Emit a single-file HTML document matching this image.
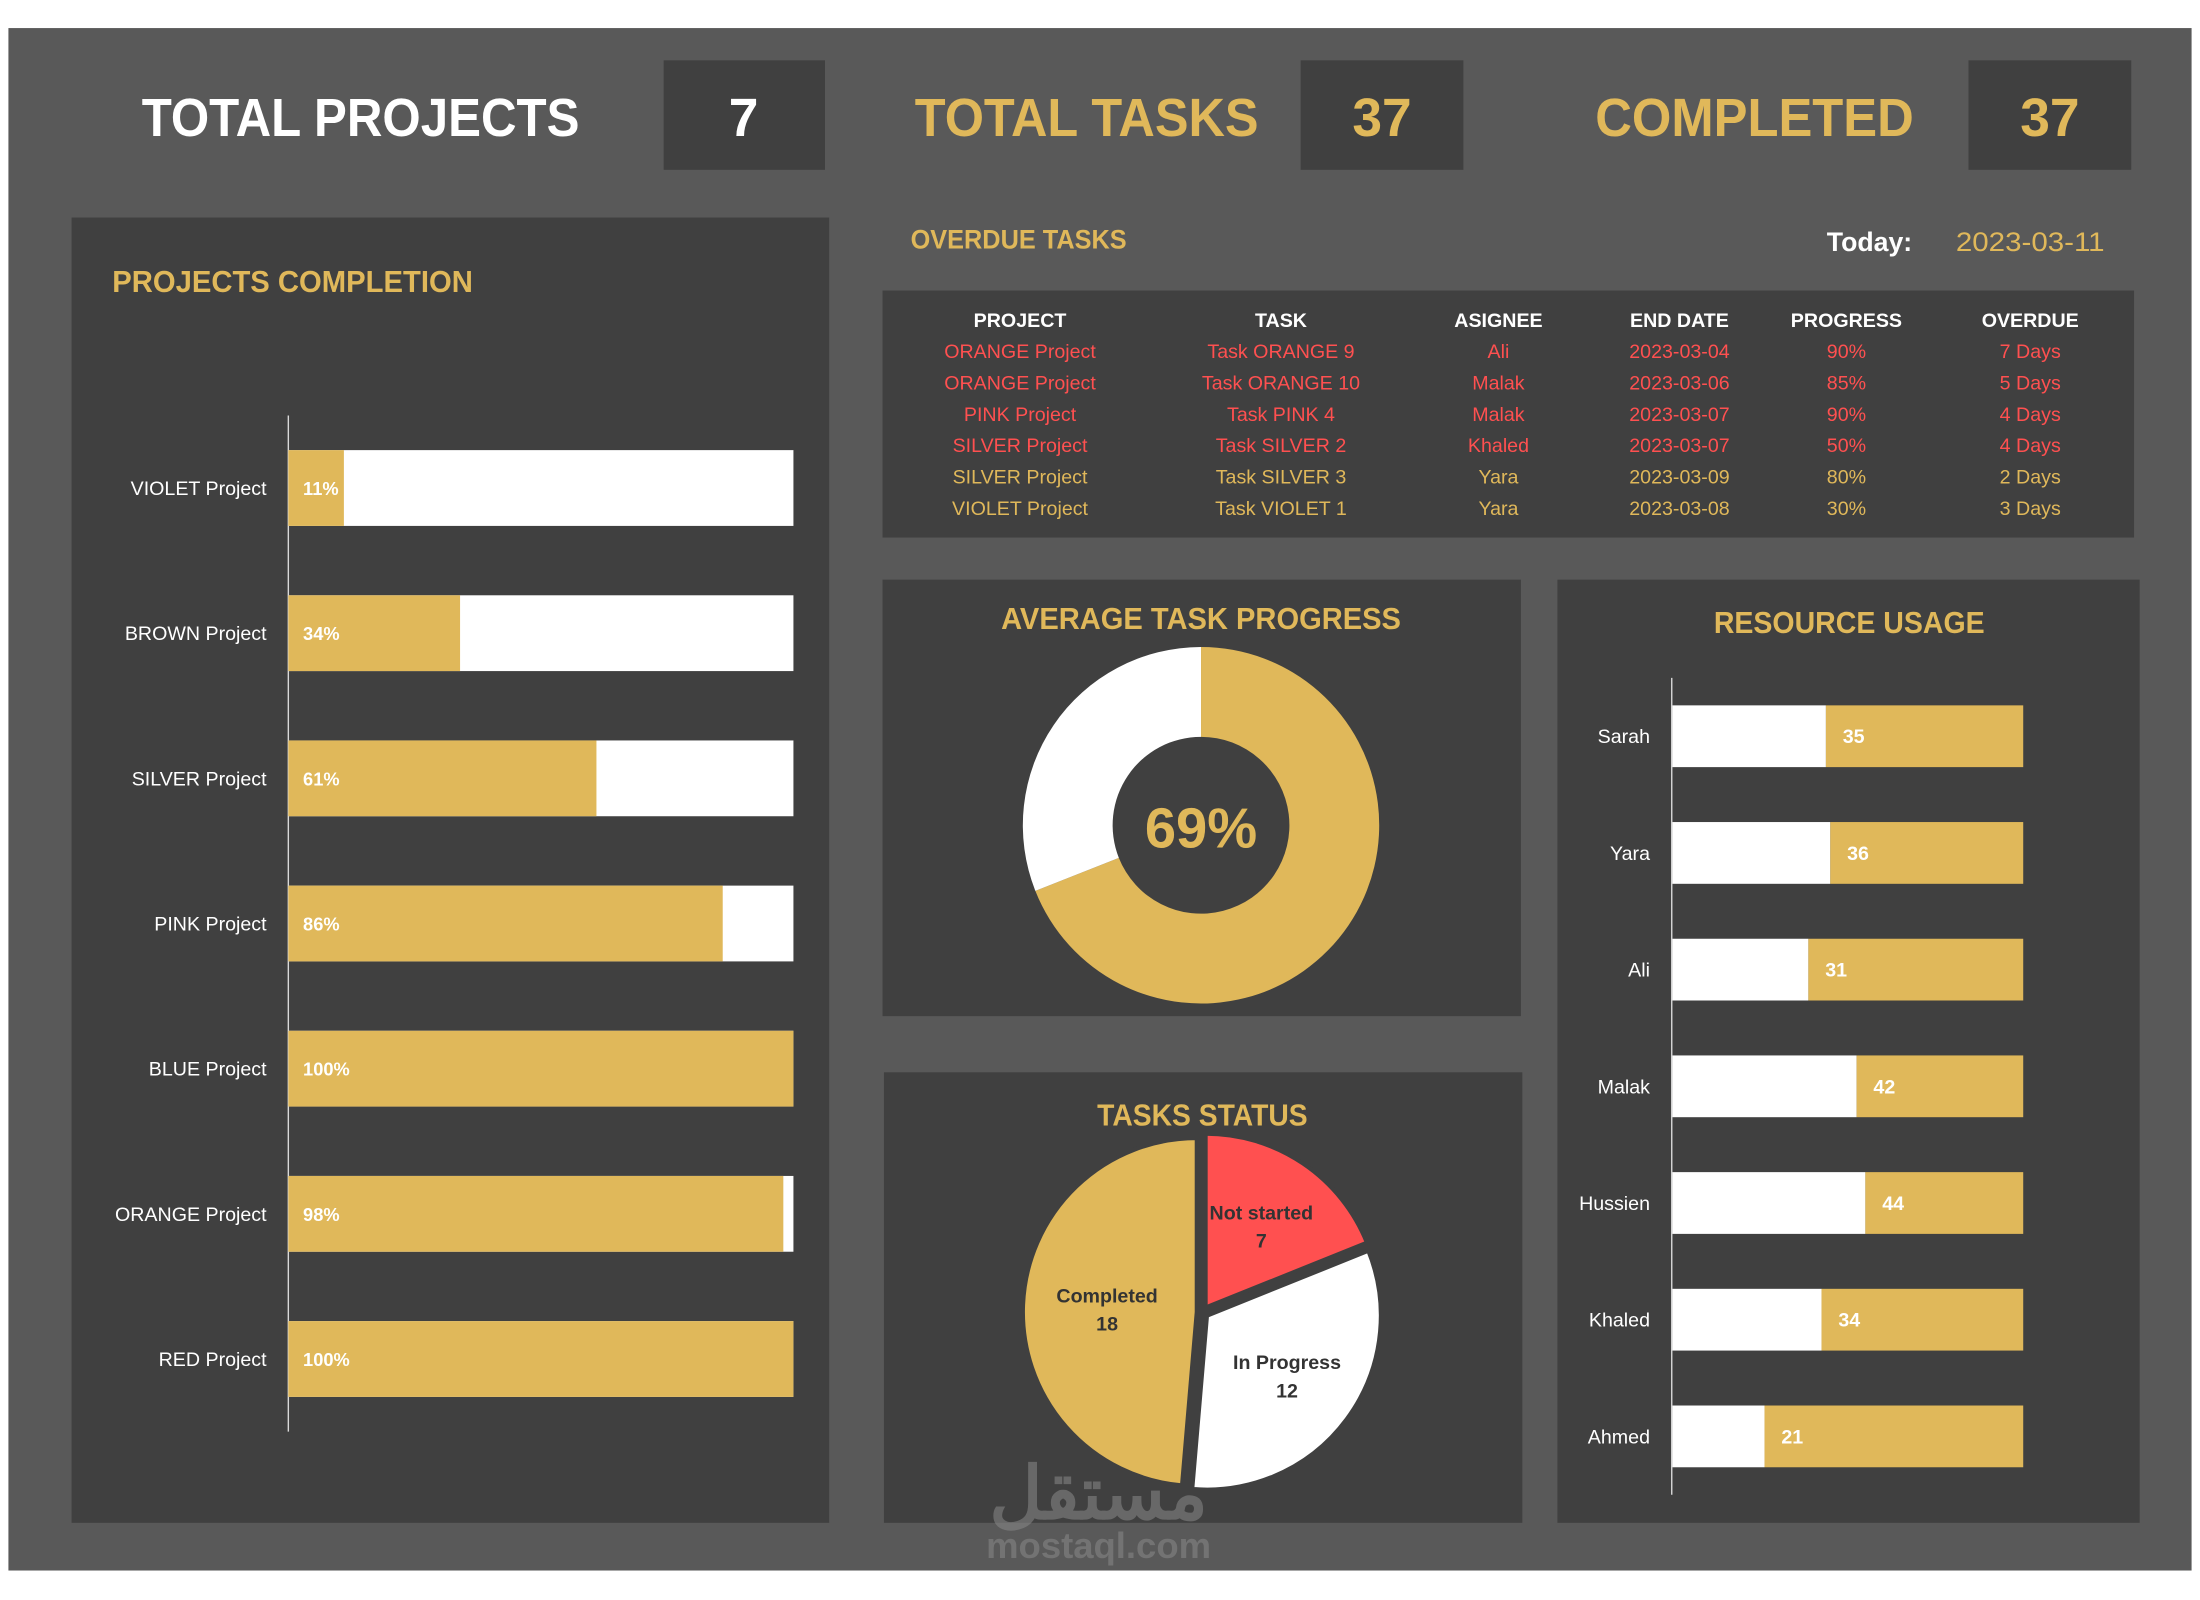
<!DOCTYPE html>
<html><head><meta charset="utf-8"><style>
html,body{margin:0;padding:0;background:#fff;width:2200px;height:1600px;overflow:hidden}
svg{display:block}
text{font-family:"Liberation Sans","Noto Sans CJK SC",sans-serif}
</style></head><body>
<svg width="2200" height="1600" viewBox="0 0 1568 1140" preserveAspectRatio="none" xmlns="http://www.w3.org/2000/svg">
<rect x="6" y="20" width="1556" height="1099" fill="#595959"/>
<g>
<text x="101" y="97" font-size="38" font-weight="bold" fill="#fff" textLength="312" lengthAdjust="spacingAndGlyphs">TOTAL PROJECTS</text>
<rect x="473" y="43" width="115" height="78" fill="#404040"/>
<text x="530" y="97" font-size="38" font-weight="bold" fill="#fff" text-anchor="middle">7</text></g>
<g>
<text x="652" y="97" font-size="38" font-weight="bold" fill="#e0b85a" textLength="245" lengthAdjust="spacingAndGlyphs">TOTAL TASKS</text>
<rect x="927" y="43" width="116" height="78" fill="#404040"/>
<text x="985" y="97" font-size="38" font-weight="bold" fill="#e0b85a" text-anchor="middle">37</text></g>
<g>
<text x="1137" y="97" font-size="38" font-weight="bold" fill="#e0b85a" textLength="227" lengthAdjust="spacingAndGlyphs">COMPLETED</text>
<rect x="1403" y="43" width="116" height="78" fill="#404040"/>
<text x="1461" y="97" font-size="38" font-weight="bold" fill="#e0b85a" text-anchor="middle">37</text></g>

<rect x="51" y="155" width="540" height="930" fill="#404040"/>
<text x="80" y="208" font-size="22" font-weight="bold" fill="#e0b85a" textLength="257" lengthAdjust="spacingAndGlyphs">PROJECTS COMPLETION</text>
<line x1="205.5" y1="296" x2="205.5" y2="1020" stroke="#d9d9d9" stroke-width="1"/>
<g id="projBars"></g>

<text x="649" y="177" font-size="19" font-weight="bold" fill="#e0b85a" textLength="154" lengthAdjust="spacingAndGlyphs">OVERDUE TASKS</text>
<text x="1302" y="179" font-size="19" font-weight="bold" fill="#fff">Today:</text>
<text x="1394" y="179" font-size="19" fill="#e0b85a" textLength="106" lengthAdjust="spacingAndGlyphs">2023-03-11</text>
<rect x="629" y="207" width="892" height="176" fill="#404040"/>
<g id="table"></g>

<rect x="629" y="413" width="455" height="311" fill="#404040"/>
<text x="856" y="448" font-size="22" font-weight="bold" fill="#e0b85a" text-anchor="middle" textLength="285" lengthAdjust="spacingAndGlyphs">AVERAGE TASK PROGRESS</text>
<g id="donut"></g>
<text x="856" y="604" font-size="40" font-weight="bold" fill="#e0b85a" text-anchor="middle">69%</text>

<rect x="630" y="764" width="455" height="321" fill="#404040"/>
<text x="857" y="802" font-size="22" font-weight="bold" fill="#e0b85a" text-anchor="middle" textLength="150" lengthAdjust="spacingAndGlyphs">TASKS STATUS</text>
<g id="pie"></g>

<rect x="1110" y="413" width="415" height="672" fill="#404040"/>
<text x="1318" y="451" font-size="22" font-weight="bold" fill="#e0b85a" text-anchor="middle" textLength="193" lengthAdjust="spacingAndGlyphs">RESOURCE USAGE</text>
<line x1="1191.5" y1="483" x2="1191.5" y2="1065" stroke="#d9d9d9" stroke-width="1"/>
<g id="resBars"></g>

<g opacity="0.55">
<text x="783" y="1082" font-size="52" font-weight="bold" fill="#8a8a8a" text-anchor="middle">مستقل</text>
<text x="783" y="1110" font-size="26" font-weight="bold" fill="#8a8a8a" text-anchor="middle">mostaql.com</text>
</g>
</svg>
<script>
const projNames=["VIOLET Project","BROWN Project","SILVER Project","PINK Project","BLUE Project","ORANGE Project","RED Project"];
const projPct=[11,34,61,86,100,98,100];
const resNames=["Sarah","Yara","Ali","Malak","Hussien","Khaled","Ahmed"];
const resValues=[35,36,31,42,44,34,21];
const avgProgress=[69];
const statusLabels=["Not started","In Progress","Completed"];
const statusValues=[7,12,18];
const tblProject=["ORANGE Project","ORANGE Project","PINK Project","SILVER Project","SILVER Project","VIOLET Project"];
const tblTask=["Task ORANGE 9","Task ORANGE 10","Task PINK 4","Task SILVER 2","Task SILVER 3","Task VIOLET 1"];
const tblAssignee=["Ali","Malak","Malak","Khaled","Yara","Yara"];
const tblEnd=["2023-03-04","2023-03-06","2023-03-07","2023-03-07","2023-03-09","2023-03-08"];
const tblProgress=["90%","85%","90%","50%","80%","30%"];
const tblOverdue=["7 Days","5 Days","4 Days","4 Days","2 Days","3 Days"];
const tblHeaders=["PROJECT","TASK","ASIGNEE","END DATE","PROGRESS","OVERDUE"];

const NS="http://www.w3.org/2000/svg";
const GOLD="#e0b85a";
function mk(tag,attrs,parent){const e=document.createElementNS(NS,tag);for(const k in attrs)e.setAttribute(k,attrs[k]);parent.appendChild(e);return e;}

// Projects bar chart
const pg=document.getElementById('projBars');
const px0=205.5,pW=360,pTop=296,pBand=(1020-296)/projNames.length,pH=54;
const xP=v=>v/100*pW;
projNames.forEach((n,i)=>{
  const cy=pTop+pBand*(i+0.5);
  const bg=mk('rect',{x:px0,y:cy-pH/2,width:pW,height:pH,fill:"#fff"},pg);
  
  
  const b=mk('rect',{x:px0,y:cy-pH/2,width:xP(projPct[i]),height:pH,fill:GOLD},pg);
  
  
  const l=mk('text',{x:190,y:cy+5,"font-size":14,fill:"#fff","text-anchor":"end"},pg);
  l.textContent=n;
  
  
  const v=mk('text',{x:216,y:cy+5,"font-size":13,"font-weight":"bold",fill:"#fff"},pg);
  v.textContent=projPct[i]+"%";
  
  
});

// Resource bars
const rg=document.getElementById('resBars');
const rx0=1192,rW=250,rMax=80,rTop=483,rBand=(1065-483)/resNames.length,rH=44;
const xR=v=>v/rMax*rW;
resNames.forEach((n,i)=>{
  const cy=rTop+rBand*(i+0.5);
  const w=xR(resValues[i]);
  const a=mk('rect',{x:rx0,y:cy-rH/2,width:w,height:rH,fill:"#fff"},rg);
  
  
  const b=mk('rect',{x:rx0+w,y:cy-rH/2,width:rW-w,height:rH,fill:GOLD},rg);
  
  
  const l=mk('text',{x:1176,y:cy+5,"font-size":14,fill:"#fff","text-anchor":"end"},rg);
  l.textContent=n;
  
  
  const v=mk('text',{x:rx0+w+12,y:cy+5,"font-size":14,"font-weight":"bold",fill:"#fff"},rg);
  v.textContent=resValues[i];
  
  
});

// Table
const tg=document.getElementById('table');
const colX=[727,913,1068,1197,1316,1447];
tblHeaders.forEach((h,j)=>{
  const t=mk('text',{x:colX[j],y:233,"font-size":14,"font-weight":"bold",fill:"#fff","text-anchor":"middle"},tg);
  t.textContent=h;
  
  
});
const cols=[tblProject,tblTask,tblAssignee,tblEnd,tblProgress,tblOverdue];
tblProject.forEach((_,i)=>{
  const y=255+i*22.4;
  const col=i<4?"#ff5050":GOLD;
  cols.forEach((c,j)=>{
    const t=mk('text',{x:colX[j],y:y,"font-size":14,fill:col,"text-anchor":"middle"},tg);
    t.textContent=c[i];
    
    
  });
});

function arcPath(cx,cy,r0,r1,a0,a1){
  const p=(r,a)=>[cx+r*Math.sin(a),cy-r*Math.cos(a)];
  const large=(a1-a0)>Math.PI?1:0;
  const [x1,y1]=p(r1,a0),[x2,y2]=p(r1,a1);
  if(r0<=0){return `M${cx},${cy}L${x1},${y1}A${r1},${r1} 0 ${large} 1 ${x2},${y2}Z`;}
  const [x3,y3]=p(r0,a1),[x4,y4]=p(r0,a0);
  return `M${x1},${y1}A${r1},${r1} 0 ${large} 1 ${x2},${y2}L${x3},${y3}A${r0},${r0} 0 ${large} 0 ${x4},${y4}Z`;
}
// Donut
const dg=document.getElementById('donut');
const dA=avgProgress[0]/100*2*Math.PI;
const d1=mk('path',{d:arcPath(856,588,63,127,0,dA),fill:GOLD},dg);


const d2=mk('path',{d:arcPath(856,588,63,127,dA,2*Math.PI-0.0001),fill:"#fff"},dg);



// Pie
const pieG=document.getElementById('pie');
const tot=statusValues.reduce((a,b)=>a+b,0);
const pieCol=["#ff5050","#fff",GOLD];
const labCol=["#333","#333","#333"];
let acc=0;
statusValues.forEach((v,i)=>{
  const a0=acc/tot*2*Math.PI, a1=(acc+v)/tot*2*Math.PI; acc+=v;
  const m=(a0+a1)/2, off=4;
  const cx=857+off*Math.sin(m), cy=935-off*Math.cos(m);
  const s=mk('path',{d:arcPath(cx,cy,0,124,a0,a1),fill:pieCol[i],stroke:"#404040","stroke-width":3},pieG);
  
  
  const lr=i===2?68:75;
  const lx=857+lr*Math.sin(m), ly=935-lr*Math.cos(m);
  const t=mk('text',{x:lx,y:ly-4,"font-size":14,"font-weight":"bold",fill:labCol[i],"text-anchor":"middle"},pieG);
  t.textContent=statusLabels[i];
  
  
  const t2=mk('text',{x:lx,y:ly+16,"font-size":14,"font-weight":"bold",fill:labCol[i],"text-anchor":"middle"},pieG);
  t2.textContent=v;
  
  
});
</script>
</body></html>
